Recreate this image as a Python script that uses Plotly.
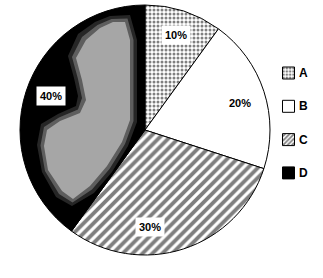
import math
import plotly.graph_objects as go

labels = ["A", "B", "C", "D"]
values = [10, 20, 30, 40]
text_labels = ["10%", "20%", "30%", "40%"]
label_shift_deg = [0, 2, 15, 2]
label_radius = [0.8, 0.79, 0.78, 0.8]

colors = ["white", "white", "white", "black"]
shapes = [".", "", "/", ""]
sizes = [4, 8, 7, 8]
solid = [0.45, 0.3, 0.55, 0.3]

# decorative gray blotch inside slice D of the source image (pixel coords)
blotch_halo = [(110, 16), (130, 15), (137, 40), (137, 122), (128, 146), (112, 172), (94, 193),
               (72, 206), (56, 197), (42, 172), (37, 145), (41, 124), (58, 114), (76, 106),
               (78, 96), (74, 78), (68, 56), (78, 34), (95, 22)]
blotch_core = [(113, 22), (125, 22), (130, 40), (130, 120), (122, 142), (107, 166), (90, 186),
               (73, 199), (62, 191), (48, 170), (44, 146), (47, 130), (60, 121), (80, 113),
               (86, 100), (82, 80), (76, 58), (86, 40), (100, 28)]
blotch_mid = [((a[0] + b[0]) / 2, (a[1] + b[1]) / 2) for a, b in zip(blotch_halo, blotch_core)]

W, H = 323, 278
cx, cy, R = 145, 130, 125  # pixel geometry of pie


def px2paper(pts):
    return "M" + "L".join("%.4f,%.4f" % (x / W, 1 - y / H) for x, y in pts) + "Z"


fig = go.Figure(go.Pie(
    labels=labels, values=values, sort=False, direction="clockwise", rotation=0,
    textinfo="none", textposition="none", hoverinfo="none", showlegend=False,
    marker=dict(colors=colors, line=dict(color="black", width=1),
                pattern=dict(shape=shapes, fgcolor="black", bgcolor="white",
                             size=sizes, solidity=solid, fillmode="overlay")),
    domain=dict(x=[(cx - R) / W, (cx + R) / W], y=[1 - (cy + R) / H, 1 - (cy - R) / H]),
))

for pts, col in [(blotch_halo, "#262626"), (blotch_mid, "#5e5e5e"), (blotch_core, "#a6a6a6")]:
    fig.add_shape(type="path", path=px2paper(pts), xref="paper", yref="paper",
                  fillcolor=col, line=dict(width=0), layer="above")

total = sum(values)
cum = 0
for i, v in enumerate(values):
    mid = (cum + v / 2) / total * 360 + label_shift_deg[i]
    cum += v
    a = math.radians(mid)
    px = cx + label_radius[i] * R * math.sin(a)
    py = cy - label_radius[i] * R * math.cos(a)
    fig.add_annotation(x=px / W, y=1 - py / H, xref="paper", yref="paper",
                       xanchor="center", yanchor="middle",
                       text="<b>%s</b>" % text_labels[i], showarrow=False,
                       bgcolor="white", borderpad=3,
                       font=dict(family="Liberation Sans, Arial", size=11, color="black"))

# legend: one entry per slice, each in its own legend box so spacing matches
legend_top, legend_step, icon_cx, text_x = 73, 33.3, 288.5, 297
layout_legends = {}
for i, lab in enumerate(labels):
    key = "legend" if i == 0 else "legend%d" % (i + 1)
    ly = legend_top + i * legend_step
    fig.add_trace(go.Bar(
        x=[None], y=[None], name="", legend=key, showlegend=True, hoverinfo="none",
        marker=dict(color=colors[i], line=dict(color="black", width=1),
                    pattern=dict(shape=shapes[i], fgcolor="black", bgcolor="white",
                                 size=4, solidity=solid[i], fillmode="overlay")),
    ))
    layout_legends[key] = dict(x=(icon_cx - 20) / W, y=1 - ly / H, xanchor="left", yanchor="middle",
                               bgcolor="rgba(0,0,0,0)", borderwidth=0,
                               font=dict(family="Liberation Sans, Arial", size=11))
    fig.add_annotation(x=text_x / W, y=1 - ly / H, xref="paper", yref="paper",
                       xanchor="left", yanchor="middle", text="<b>%s</b>" % lab, showarrow=False,
                       font=dict(family="Liberation Sans, Arial", size=12, color="black"))

fig.update_layout(
    width=W, height=H, margin=dict(l=0, r=0, t=0, b=0),
    paper_bgcolor="white", plot_bgcolor="white",
    xaxis=dict(visible=False), yaxis=dict(visible=False),
    showlegend=True,
    **layout_legends,
)
fig.write_html("out.html")
